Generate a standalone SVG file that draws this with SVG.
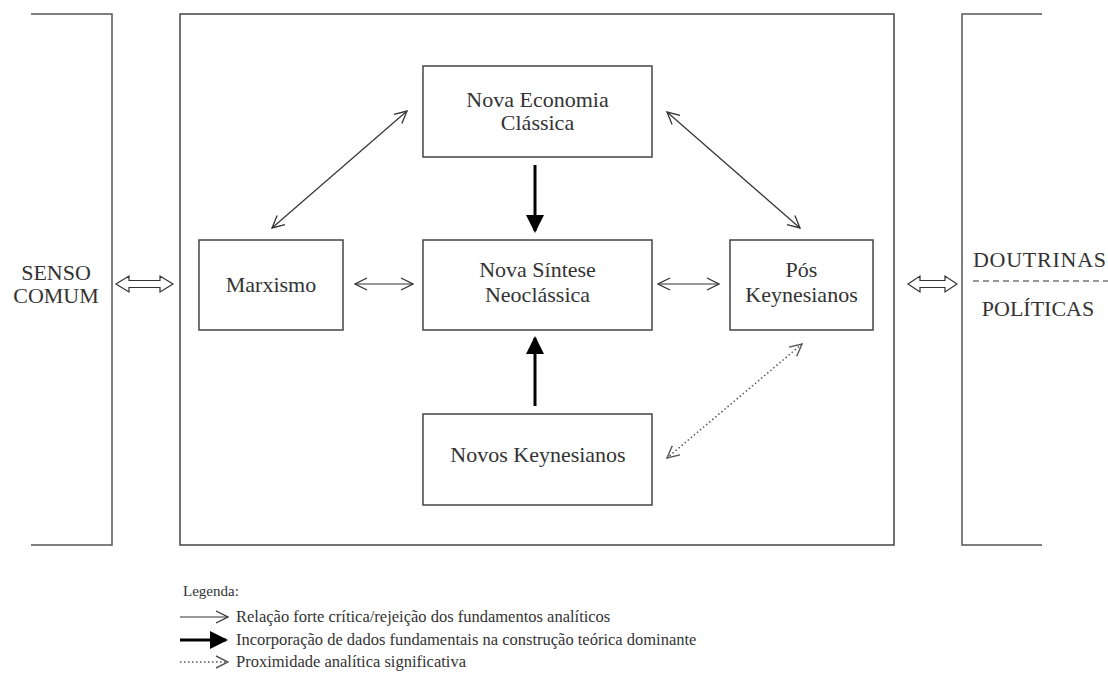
<svg xmlns="http://www.w3.org/2000/svg" width="1108" height="673" viewBox="0 0 1108 673">
<style>
  .txt { font-family: "Liberation Serif", "DejaVu Serif", serif; fill: #333; }
  .node { font-size: 22px; text-anchor: middle; }
  .side { font-size: 22px; }
  .leg { font-size: 16.5px; }
  .box { fill: #fff; stroke: #444; stroke-width: 1.5; }
  .frame { fill: none; stroke: #555; stroke-width: 1.5; }
  .thin { stroke: #333; stroke-width: 1.2; fill: none; }
  .thick { stroke: #000; stroke-width: 3; fill: none; }
  .dot { stroke: #555; stroke-width: 1.5; stroke-dasharray: 1.5 2.5; fill: none; }
  .hollow { fill: #fff; stroke: #333; stroke-width: 1.2; }
</style>
<defs>
  <marker id="open" viewBox="0 0 14 14" refX="13" refY="7" markerWidth="14" markerHeight="14" markerUnits="userSpaceOnUse" orient="auto-start-reverse">
    <path d="M1,1 L13,7 L1,13" fill="none" stroke="#333" stroke-width="1.3"/>
  </marker>
  <marker id="opendot" viewBox="0 0 14 14" refX="13" refY="7" markerWidth="14" markerHeight="14" markerUnits="userSpaceOnUse" orient="auto-start-reverse">
    <path d="M1,1 L13,7 L1,13" fill="none" stroke="#555" stroke-width="1.4"/>
  </marker>
  <marker id="solid" viewBox="0 0 18 18" refX="16" refY="9" markerWidth="18" markerHeight="18" markerUnits="userSpaceOnUse" orient="auto">
    <path d="M0,0 L18,9 L0,18 Z" fill="#000"/>
  </marker>
</defs>
<rect width="1108" height="673" fill="#fff"/>

<g id="senso-comum">
  <polyline class="frame" points="31,14 112,14 112,545 31,545"/>
  <text class="txt side" x="56" y="280" text-anchor="middle">SENSO</text>
  <text class="txt side" x="56" y="303" text-anchor="middle">COMUM</text>
</g>

<g id="doutrinas-politicas">
  <polyline class="frame" points="1042,14 962,14 962,545 1042,545"/>
  <text class="txt side" x="973" y="267" textLength="133" lengthAdjust="spacing">DOUTRINAS</text>
  <line x1="973" y1="281" x2="1108" y2="281" stroke="#333" stroke-width="1.2" stroke-dasharray="6 4"/>
  <text class="txt side" x="1038" y="316" text-anchor="middle">POLÍTICAS</text>
</g>

<g id="main-frame">
  <rect x="180" y="14" width="714" height="531" fill="none" stroke="#444" stroke-width="1.5"/>
</g>

<g id="nova-economia-classica">
  <rect class="box" x="423" y="66" width="229" height="91"/>
  <text class="txt node" x="537.5" y="107">Nova Economia</text>
  <text class="txt node" x="537.5" y="130">Clássica</text>
</g>

<g id="nova-sintese-neoclassica">
  <rect class="box" x="423" y="240" width="229" height="90"/>
  <text class="txt node" x="537.5" y="277">Nova Síntese</text>
  <text class="txt node" x="537.5" y="302">Neoclássica</text>
</g>

<g id="marxismo">
  <rect class="box" x="199" y="240" width="144" height="90"/>
  <text class="txt node" x="271" y="292">Marxismo</text>
</g>

<g id="pos-keynesianos">
  <rect class="box" x="730" y="240" width="143" height="90"/>
  <text class="txt node" x="801.5" y="277">Pós</text>
  <text class="txt node" x="801.5" y="302">Keynesianos</text>
</g>

<g id="novos-keynesianos">
  <rect class="box" x="423" y="414" width="229" height="91"/>
  <text class="txt node" x="538" y="462">Novos Keynesianos</text>
</g>

<g id="connectors">
  <path class="hollow" d="M116,284 L129,276 L129,280.5 L160,280.5 L160,276 L173,284 L160,292 L160,287.5 L129,287.5 L129,292 Z"/>
  <path class="hollow" d="M908,284 L920,276 L920,280.5 L945,280.5 L945,276 L957,284 L945,292 L945,287.5 L920,287.5 L920,292 Z"/>
  <line class="thin" x1="355" y1="284" x2="413" y2="284" marker-start="url(#open)" marker-end="url(#open)"/>
  <line class="thin" x1="658" y1="284" x2="719" y2="284" marker-start="url(#open)" marker-end="url(#open)"/>
  <line class="thin" x1="272" y1="228" x2="407" y2="111" marker-start="url(#open)" marker-end="url(#open)"/>
  <line class="thin" x1="667" y1="112" x2="800" y2="228" marker-start="url(#open)" marker-end="url(#open)"/>
  <line class="dot" x1="802" y1="344" x2="667" y2="458" marker-start="url(#opendot)" marker-end="url(#opendot)"/>
  <line class="thick" x1="535" y1="165" x2="535" y2="231" marker-end="url(#solid)"/>
  <line class="thick" x1="535" y1="406" x2="535" y2="338" marker-end="url(#solid)"/>
</g>

<g id="legend">
  <text class="txt" x="183" y="596" font-size="15">Legenda:</text>
  <line class="thin" x1="180" y1="617" x2="228" y2="617" marker-end="url(#open)"/>
  <text class="txt leg" x="236" y="622">Relação forte crítica/rejeição dos fundamentos analíticos</text>
  <line class="thick" x1="180" y1="640" x2="226" y2="640" marker-end="url(#solid)"/>
  <text class="txt leg" x="236" y="645">Incorporação de dados fundamentais na construção teórica dominante</text>
  <line class="dot" x1="180" y1="662" x2="228" y2="662" marker-end="url(#opendot)"/>
  <text class="txt leg" x="236" y="667">Proximidade analítica significativa</text>
</g>
</svg>
